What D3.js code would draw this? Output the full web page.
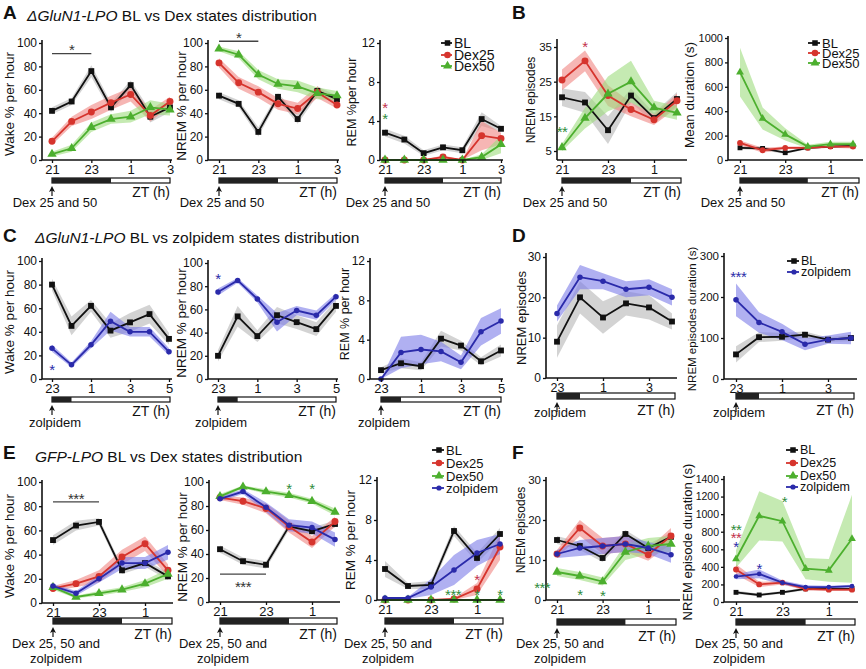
<!DOCTYPE html>
<html><head><meta charset="utf-8">
<script src="https://cdn.jsdelivr.net/npm/d3@7"></script>
<style>body{margin:0;background:#fff}svg{font-family:"Liberation Sans",Arial,sans-serif}</style>
</head><body><svg id="c" width="866" height="669"></svg>
<script>
// ---------------- DATA ----------------
const hoursA = [21,22,23,24,25,26,27];
const hoursB = [21,22,23,24,25,26];
const hoursC = [23,24,25,26,27,28,29];
const hoursD = [23,24,25,26,27,28];
const hoursE = [21,22,23,24,25,26];
const ticksA = [21,23,25,27];
const ticksB = [21,23,25];
const ticksC = [23,25,27,29];
const ticksD = [23,25,27];
const ticksE = [21,23,25];
const pctTicks = [0,20,40,60,80,100];
const remTicks = [0,4,8,12];

// Panel A: ΔGluN1-LPO BL vs Dex
const A_wake_BL = [42,50,76,45,64,37,45], A_wake_BL_sem = [3,3,5,4,4,5,4];
const A_wake_D25 = [16,33,41,49,56,38,50], A_wake_D25_sem = [3,4,6,6,6,5,4];
const A_wake_D50 = [5,10,28,35,37,45,43], A_wake_D50_sem = [2,3,4,4,5,6,5];
const A_nrem_BL = [55,48,24,54,35,59,52], A_nrem_BL_sem = [3,3,4,3,4,4,3];
const A_nrem_D25 = [83,66,58,48,44,58,47], A_nrem_D25_sem = [4,5,5,5,5,5,3];
const A_nrem_D50 = [95,90,73,65,63,57,55], A_nrem_D50_sem = [2,3,4,4,5,5,4];
const A_rem_BL = [2.8,2.1,0.7,1.3,1.0,4.2,3.2], A_rem_BL_sem = [0.4,0.4,0.3,0.3,0.3,0.7,0.3];
const A_rem_D25 = [0,0,0,0.3,0,2.5,2.2], A_rem_D25_sem = [0,0,0,0.2,0,1.5,0.6];
const A_rem_D50 = [0,0,0,0,0,0.3,1.6], A_rem_D50_sem = [0,0,0,0,0,0.3,0.9];

// Panel B
const B_ep_BL = [20.5,19,11,21,14.5,20], B_ep_BL_sem = [2.5,3,4,2,1.5,2];
const B_ep_D25 = [25.5,31,21,17,14,19.5], B_ep_D25_sem = [3,3,3,2,1.5,2];
const B_ep_D50 = [6,14.5,21.5,25,17.5,16], B_ep_D50_sem = [1,3,5,6,2,2];
const B_dur_BL = [100,95,60,100,110,115], B_dur_BL_sem = [12,15,10,10,10,10];
const B_dur_D25 = [140,80,100,100,110,110], B_dur_D25_sem = [20,20,10,10,10,15];
const B_dur_D50 = [720,340,210,110,130,130], B_dur_D50_sem = [200,90,50,15,20,20];

// Panel C: BL vs zolpidem
const C_wake_BL = [80,45,62,41,48,55,34], C_wake_BL_sem = [5,8,5,6,8,8,5];
const C_wake_ZOL = [26,12,29,49,40,40,23], C_wake_ZOL_sem = [3,2,3,8,4,4,3];
const C_nrem_BL = [20,54,37,55,49,43,63], C_nrem_BL_sem = [5,9,5,7,6,6,5];
const C_nrem_ZOL = [75,85,69,49,59,55,71], C_nrem_ZOL_sem = [3,2,3,8,4,4,3];
const C_rem_BL = [0.9,1.6,1.3,4.1,3.4,1.8,2.9], C_rem_BL_sem = [0.3,0.5,0.4,0.8,0.5,0.4,0.6];
const C_rem_ZOL = [0,2.7,3.0,2.8,1.7,4.8,5.9], C_rem_ZOL_sem = [0,1.6,1.5,1.0,0.7,1.4,1.3];

// Panel D
const D_ep_BL = [9,20,15,18.5,17.5,14], D_ep_BL_sem = [4,4,4,3,3,2];
const D_ep_ZOL = [16,25,24,22,22.5,20], D_ep_ZOL_sem = [2,3,2,2,2,2];
const D_dur_BL = [60,102,103,108,96,100], D_dur_BL_sem = [20,12,10,8,5,8];
const D_dur_ZOL = [193,138,115,85,96,100], D_dur_ZOL_sem = [40,25,20,15,10,15];

// Panel E: GFP-LPO
const E_wake_BL = [52,64,67,27,33,22], E_wake_BL_sem = [4,4,3,3,3,3];
const E_wake_D25 = [12,16,22,38,49,27], E_wake_D25_sem = [2,3,5,6,6,5];
const E_wake_D50 = [13,5,8,11,16,24], E_wake_D50_sem = [2,1,2,2,3,4];
const E_wake_ZOL = [14,8,20,33,33,42], E_wake_ZOL_sem = [2,2,3,5,5,6];
const E_nrem_BL = [44,34,31,63,59,65], E_nrem_BL_sem = [3,3,3,3,3,3];
const E_nrem_D25 = [87,84,78,63,50,67], E_nrem_D25_sem = [2,3,4,5,5,4];
const E_nrem_D50 = [88,96,92,89,84,75], E_nrem_D50_sem = [2,1,2,2,2,3];
const E_nrem_ZOL = [86,92,79,64,62,52], E_nrem_ZOL_sem = [2,2,4,5,5,6];
const E_rem_BL = [3.1,1.4,1.5,6.9,4.2,6.6], E_rem_BL_sem = [0.8,0.3,0.4,0.5,0.5,0.6];
const E_rem_D25 = [0,0,0,0.1,1.1,5.3], E_rem_D25_sem = [0,0,0,0.1,0.6,1.3];
const E_rem_D50 = [0,0,0,0,0,0], E_rem_D50_sem = [0,0,0,0,0,0];
const E_rem_ZOL = [0.2,0.2,1.3,3.0,4.7,5.6], E_rem_ZOL_sem = [0.1,0.1,0.8,1.5,1.3,1.0];

// Panel F
const F_ep_BL = [15,13.5,10.5,16.5,13,15.8], F_ep_BL_sem = [1,1,1,1,1,1];
const F_ep_D25 = [11.5,18,13.5,14,11.3,16], F_ep_D25_sem = [1,2,2,2,1.5,2];
const F_ep_D50 = [7,6,4.6,12,13.5,14], F_ep_D50_sem = [1,1,1,2,2,2];
const F_ep_ZOL = [11.5,13,13.5,14,13,11.3], F_ep_ZOL_sem = [1,2,2,2,1.5,2];
const F_dur_BL = [110,80,110,150,150,150], F_dur_BL_sem = [20,15,15,15,15,15];
const F_dur_D25 = [370,200,220,150,140,140], F_dur_D25_sem = [60,30,20,20,15,15];
const F_dur_D50 = [490,980,920,380,360,720], F_dur_D50_sem = [100,280,230,120,130,500];
const F_dur_ZOL = [290,320,220,170,170,180], F_dur_ZOL_sem = [30,50,25,20,15,15];

// ---------------- STYLE ----------------
const STY = {
  BL: {c:"#111111", band:"#b5b5b5", m:d3.symbolSquare, s:34},
  Dex25: {c:"#d6342d", band:"#f08682", m:d3.symbolCircle, s:38},
  Dex50: {c:"#4caf2e", band:"#9fdc7f", m:d3.symbolTriangle, s:38},
  zolpidem: {c:"#2a2aaa", band:"#7c7ce8", m:d3.symbolCircle, s:24}
};
const STAR = {g:"#2e8b3a", r:"#c2304a", b:"#2a2aa8", k:"#333"};
const STAR_FS = 15;

const svg = d3.select("#c");
const S = (name, v, sem) => ({name, v, sem});

function drawPanel(p) {
  const g = svg.append("g");
  const x = d3.scaleLinear().domain([p.hours[0], p.hours[p.hours.length-1]]).range([p.x0, p.x1]);
  const y = d3.scaleLinear().domain(p.yDom).range(p.yRng);
  // bands
  p.series.forEach(s => {
    const st = STY[s.name];
    const area = d3.area()
      .x((d,i)=>x(p.hours[i]))
      .y0((d,i)=>y(Math.max(0, d - s.sem[i])))
      .y1((d,i)=>y(d + s.sem[i]));
    g.append("path").datum(s.v).attr("d", area).attr("fill", st.band).attr("opacity", 0.6);
  });
  // lines + markers
  p.series.forEach(s => {
    const st = STY[s.name];
    const line = d3.line().x((d,i)=>x(p.hours[i])).y(d=>y(d));
    g.append("path").datum(s.v).attr("d", line).attr("fill","none").attr("stroke", st.c).attr("stroke-width", 1.8);
    g.selectAll(null).data(s.v).join("path")
      .attr("transform", (d,i)=>`translate(${x(p.hours[i])},${y(d)})`)
      .attr("d", d3.symbol(st.m, st.s * (p.msc||1)))
      .attr("fill", st.c);
  });
  const tsz = p.tsz || 12;
  // y axis
  const ya = g.append("g").attr("transform", `translate(${p.ax},0)`)
    .call(d3.axisLeft(y).tickValues(p.yTicks).tickFormat(d3.format("d")).tickSize(3).tickPadding(2).tickSizeOuter(0));
  ya.select(".domain").remove();
  ya.attr("font-family", null).attr("font-size", tsz);
  ya.selectAll("line").attr("stroke", "#111").attr("stroke-width", 1.3);
  ya.selectAll("text").attr("fill", "#111");
  g.append("line").attr("x1", p.ax).attr("x2", p.ax).attr("y1", p.axB).attr("y2", p.axT)
    .attr("stroke", "#111").attr("stroke-width", 1.6);
  // x axis
  const xa = g.append("g").attr("transform", `translate(0,${p.axB})`)
    .call(d3.axisBottom(x).tickValues(p.xTicks).tickFormat(h => h % 24).tickSize(3).tickPadding(2).tickSizeOuter(0));
  xa.select(".domain").remove();
  xa.attr("font-family", null).attr("font-size", p.xsz || 13);
  xa.selectAll("line").attr("stroke", "#111").attr("stroke-width", 1.3);
  xa.selectAll("text").attr("fill", "#111");
  g.append("line").attr("x1", p.ax).attr("x2", p.axE).attr("y1", p.axB).attr("y2", p.axB)
    .attr("stroke", "#111").attr("stroke-width", 1.6);
  // light/dark bar
  const bx0 = x(p.hours[0]);
  g.append("rect").attr("x", bx0).attr("y", p.barY).attr("width", p.barE - bx0).attr("height", p.barH)
    .attr("fill", "#fff").attr("stroke", "#111").attr("stroke-width", 1.2);
  g.append("rect").attr("x", bx0).attr("y", p.barY).attr("width", x(24) - bx0).attr("height", p.barH)
    .attr("fill", "#222");
  const bb = p.barY + p.barH;
  // arrow
  g.append("line").attr("x1", bx0).attr("x2", bx0).attr("y1", bb + 6).attr("y2", bb + 13)
    .attr("stroke", "#111").attr("stroke-width", 1.2);
  g.append("path").attr("d", `M${bx0},${bb+3} L${bx0-3},${bb+9} L${bx0},${bb+7.5} L${bx0+3},${bb+9} Z`).attr("fill", "#111");
  // ZT label
  g.append("text").attr("x", p.barE).attr("y", bb + p.ztDy).attr("text-anchor", "end")
    .attr("font-size", 14).attr("fill", "#111").text("ZT (h)");
  // notes
  p.notes.forEach((t, i) => {
    g.append("text").attr("x", bx0 + 3).attr("y", bb + p.noteDy + i * 15).attr("text-anchor", "middle")
      .attr("font-size", 13).attr("fill", "#111").text(t);
  });
  // y label
  g.append("text").attr("transform", `translate(${p.lx},${p.ly}) rotate(-90)`)
    .attr("text-anchor", "middle").attr("dominant-baseline", "central")
    .attr("font-size", p.lsz).attr("fill", "#111").text(p.label);
  // significance bars
  (p.sigLines || []).forEach(l => {
    g.append("line").attr("x1", x(l[0])).attr("x2", x(l[1])).attr("y1", y(l[2])).attr("y2", y(l[2]))
      .attr("stroke", "#444").attr("stroke-width", 1.3);
  });
  (p.stars || []).forEach(s => {
    g.append("text").attr("x", x(s[0])).attr("y", y(s[1]) + 0.58 * STAR_FS).attr("text-anchor", "middle")
      .attr("font-size", STAR_FS).attr("fill", STAR[s[3]]).attr("letter-spacing", "-0.5px").text(s[2]);
  });
  // stacked stars at the same time point, one text block
  (p.stack || []).forEach(st => {
    const t = g.append("text").attr("text-anchor", "middle").attr("font-size", STAR_FS).attr("letter-spacing", "-0.5px");
    st.items.forEach(it => {
      t.append("tspan").attr("x", x(st.h)).attr("y", y(it[0]) + 0.58 * STAR_FS)
        .attr("fill", STAR[it[2]]).text(it[1]);
    });
  });
  // legend
  if (p.legend) {
    const L = p.legend;
    p.series.forEach((s, i) => {
      const st = STY[s.name];
      const yy = L.ys[i];
      g.append("line").attr("x1", L.x).attr("x2", L.x + L.w).attr("y1", yy).attr("y2", yy)
        .attr("stroke", st.c).attr("stroke-width", 1.8);
      g.append("path").attr("transform", `translate(${L.x + L.w/2 + 1},${yy})`)
        .attr("d", d3.symbol(st.m, st.s * 0.9)).attr("fill", st.c);
      g.append("text").attr("x", L.x + L.w + 2).attr("y", yy).attr("dominant-baseline", "central")
        .attr("font-size", L.fs).attr("fill", "#111").text(s.name);
    });
  }
}

function title(letter, lx, ly, tx, ty, ital, rest) {
  svg.append("text").attr("x", lx).attr("y", ly).attr("font-size", 19).attr("font-weight", "bold")
    .attr("fill", "#111").text(letter);
  if (tx !== null) {
    const t = svg.append("text").attr("x", tx).attr("y", ty).attr("font-size", 15.5).attr("fill", "#111");
    t.append("tspan").attr("font-style", "italic").text(ital);
    t.append("tspan").text(rest);
  }
}

title("A", 3, 19, 27, 21, "ΔGluN1-LPO", " BL vs Dex states distribution");
title("B", 512, 19, null);
title("C", 3, 242, 35, 243, "ΔGluN1-LPO", " BL vs zolpidem states distribution");
title("D", 512, 242, null);
title("E", 3, 459, 35, 462, "GFP-LPO", " BL vs Dex states distribution");
title("F", 512, 459, null);

const dexNote = ["Dex 25 and 50"];
const zolNote = ["zolpidem"];
const eNote = ["Dex 25, 50 and", "zolpidem"];

// ---------- Row A ----------
drawPanel({hours:hoursA, xTicks:ticksA, x0:52, x1:170, ax:42, axB:160, axT:40, axE:172,
  yDom:[0,100], yRng:[160,43], yTicks:pctTicks, barY:178, barH:5, barE:170, ztDy:14, noteDy:24, notes:dexNote,
  label:"Wake % per hour", lx:9, ly:104, lsz:13.5,
  series:[S("BL",A_wake_BL,A_wake_BL_sem),S("Dex25",A_wake_D25,A_wake_D25_sem),S("Dex50",A_wake_D50,A_wake_D50_sem)],
  sigLines:[[21,23,91]], stars:[[22,97,"*","k"]]});
drawPanel({hours:hoursA, xTicks:ticksA, x0:219, x1:337, ax:208, axB:160, axT:40, axE:339,
  yDom:[0,100], yRng:[160,43], yTicks:pctTicks, barY:178, barH:5, barE:337, ztDy:14, noteDy:24, notes:dexNote,
  label:"NREM % per hour", lx:181, ly:106, lsz:13.5,
  series:[S("BL",A_nrem_BL,A_nrem_BL_sem),S("Dex25",A_nrem_D25,A_nrem_D25_sem),S("Dex50",A_nrem_D50,A_nrem_D50_sem)],
  sigLines:[[21,23,101.5]], stars:[[22,107.5,"*","k"]]});
drawPanel({hours:hoursA, xTicks:ticksA, x0:385, x1:501, ax:380, axB:160, axT:40, axE:503,
  yDom:[0,12], yRng:[160,43], yTicks:remTicks, barY:178, barH:5, barE:501, ztDy:14, noteDy:24, notes:dexNote,
  label:"REM %per hour", lx:352, ly:102, lsz:12.5,
  series:[S("BL",A_rem_BL,A_rem_BL_sem),S("Dex25",A_rem_D25,A_rem_D25_sem),S("Dex50",A_rem_D50,A_rem_D50_sem)],
  stack:[{h:21, items:[[5.75,"*","r"],[4.6,"*","g"]]}],
  legend:{x:441, w:11, ys:[43,55,66], fs:14}});
// ---------- B ----------
drawPanel({hours:hoursB, xTicks:ticksB, x0:562, x1:677, ax:557, axB:160, axT:39, axE:687,
  yDom:[5,35], yRng:[151,47], yTicks:[5,15,25,35], tsz:11.5, xsz:12.5, barY:178, barH:5, barE:681, ztDy:14, noteDy:24, notes:dexNote,
  label:"NREM episodes", lx:531, ly:100, lsz:12,
  series:[S("BL",B_ep_BL,B_ep_BL_sem),S("Dex25",B_ep_D25,B_ep_D25_sem),S("Dex50",B_ep_D50,B_ep_D50_sem)],
  stars:[[22,36.2,"*","r"],[21,11.6,"**","g"]]});
drawPanel({hours:hoursB, xTicks:ticksB, x0:740, x1:853, ax:728, axB:160, axT:36, axE:863, msc:0.7,
  yDom:[0,1000], yRng:[160,38], yTicks:[0,200,400,600,800,1000], tsz:11, xsz:12.5, barY:178, barH:5, barE:859, ztDy:14, noteDy:24, notes:dexNote,
  label:"Mean duration (s)", lx:689, ly:95, lsz:13.5,
  series:[S("BL",B_dur_BL,B_dur_BL_sem),S("Dex25",B_dur_D25,B_dur_D25_sem),S("Dex50",B_dur_D50,B_dur_D50_sem)],
  legend:{x:808, w:12, ys:[43,53,63], fs:13}});

// ---------- Row C ----------
drawPanel({hours:hoursC, xTicks:ticksC, x0:52, x1:169, ax:42, axB:379, axT:258, axE:172,
  yDom:[0,100], yRng:[379,261], yTicks:pctTicks, barY:397, barH:5, barE:170, ztDy:14, noteDy:25, notes:zolNote,
  label:"Wake % per hour", lx:9, ly:322, lsz:13.5,
  series:[S("BL",C_wake_BL,C_wake_BL_sem),S("zolpidem",C_wake_ZOL,C_wake_ZOL_sem)],
  stars:[[23,11,"*","b"]]});
drawPanel({hours:hoursC, xTicks:ticksC, x0:218, x1:336, ax:208, axB:379, axT:260, axE:338,
  yDom:[0,100], yRng:[379,263], yTicks:pctTicks, barY:397, barH:5, barE:336, ztDy:14, noteDy:25, notes:zolNote,
  label:"NREM % per hour", lx:181, ly:323, lsz:13.5,
  series:[S("BL",C_nrem_BL,C_nrem_BL_sem),S("zolpidem",C_nrem_ZOL,C_nrem_ZOL_sem)],
  stars:[[23,89.7,"*","b"]]});
drawPanel({hours:hoursC, xTicks:ticksC, x0:381, x1:501, ax:370, axB:379, axT:258, axE:503,
  yDom:[0,12], yRng:[379,261], yTicks:remTicks, barY:397, barH:5, barE:501, ztDy:14, noteDy:25, notes:zolNote,
  label:"REM % per hour", lx:345, ly:314, lsz:12.5,
  series:[S("BL",C_rem_BL,C_rem_BL_sem),S("zolpidem",C_rem_ZOL,C_rem_ZOL_sem)]});
// ---------- D ----------
drawPanel({hours:hoursD, xTicks:ticksD, x0:557, x1:672, ax:546, axB:378, axT:253, axE:677,
  yDom:[0,30], yRng:[378,257], yTicks:[0,10,20,30], tsz:12, xsz:12.5, barY:393, barH:6, barE:675, ztDy:16, noteDy:18, notes:zolNote,
  label:"NREM episodes", lx:521, ly:318, lsz:13,
  series:[S("BL",D_ep_BL,D_ep_BL_sem),S("zolpidem",D_ep_ZOL,D_ep_ZOL_sem)]});
drawPanel({hours:hoursD, xTicks:ticksD, x0:736, x1:851, ax:724, axB:379, axT:253, axE:857,
  yDom:[0,300], yRng:[379,256], yTicks:[0,100,200,300], tsz:11.5, xsz:12.5, barY:393, barH:6, barE:854, ztDy:16, noteDy:18, notes:zolNote,
  label:"NREM episodes duration (s)", lx:692, ly:319, lsz:11.5,
  series:[S("BL",D_dur_BL,D_dur_BL_sem),S("zolpidem",D_dur_ZOL,D_dur_ZOL_sem)],
  stars:[[23.1,258,"***","b"]],
  legend:{x:787, w:12, ys:[261,272], fs:12.5}});

// ---------- Row E ----------
drawPanel({hours:hoursE, xTicks:ticksE, x0:53, x1:168, ax:42, axB:603, axT:480, axE:173,
  yDom:[0,100], yRng:[603,482], yTicks:pctTicks, barY:618, barH:6, barE:172, ztDy:15, noteDy:24, notes:eNote,
  label:"Wake % per hour", lx:9, ly:546, lsz:13.5,
  series:[S("BL",E_wake_BL,E_wake_BL_sem),S("Dex25",E_wake_D25,E_wake_D25_sem),S("Dex50",E_wake_D50,E_wake_D50_sem),S("zolpidem",E_wake_ZOL,E_wake_ZOL_sem)],
  sigLines:[[21,23,83.5]], stars:[[22,89,"***","k"]]});
drawPanel({hours:hoursE, xTicks:ticksE, x0:220, x1:335, ax:209, axB:602, axT:480, axE:340,
  yDom:[0,100], yRng:[602,482], yTicks:pctTicks, barY:618, barH:6, barE:337, ztDy:15, noteDy:24, notes:eNote,
  label:"NREM % per hour", lx:182, ly:547, lsz:13.5,
  series:[S("BL",E_nrem_BL,E_nrem_BL_sem),S("Dex25",E_nrem_D25,E_nrem_D25_sem),S("Dex50",E_nrem_D50,E_nrem_D50_sem),S("zolpidem",E_nrem_ZOL,E_nrem_ZOL_sem)],
  sigLines:[[21,23,23.3]], stars:[[22,15.8,"***","k"],[24,97.5,"*","g"],[25,97.5,"*","g"]]});
drawPanel({hours:hoursE, xTicks:ticksE, x0:385, x1:500, ax:377, axB:600, axT:477, axE:505,
  yDom:[0,12], yRng:[600,480], yTicks:remTicks, barY:618, barH:6, barE:503, ztDy:15, noteDy:24, notes:eNote,
  label:"REM % per hour", lx:350, ly:540, lsz:13.5,
  series:[S("BL",E_rem_BL,E_rem_BL_sem),S("Dex25",E_rem_D25,E_rem_D25_sem),S("Dex50",E_rem_D50,E_rem_D50_sem),S("zolpidem",E_rem_ZOL,E_rem_ZOL_sem)],
  stars:[[23.96,0.9,"***","g"],[25,2.4,"*","r"],[25,0.9,"*","g"],[26,0.9,"*","g"]],
  legend:{x:432, w:12, ys:[450,463,476,488], fs:13}});
// ---------- F ----------
drawPanel({hours:hoursE, xTicks:ticksE, x0:557, x1:671, ax:546, axB:600, axT:477, axE:680,
  yDom:[0,30], yRng:[600,480], yTicks:[0,10,20,30], tsz:11.5, xsz:12.5, barY:619, barH:6, barE:676, ztDy:16, noteDy:23, notes:eNote,
  label:"NREM episodes", lx:521, ly:530, lsz:12,
  series:[S("BL",F_ep_BL,F_ep_BL_sem),S("Dex25",F_ep_D25,F_ep_D25_sem),S("Dex50",F_ep_D50,F_ep_D50_sem),S("zolpidem",F_ep_ZOL,F_ep_ZOL_sem)],
  stars:[[20.35,4,"***","g"],[22,2.3,"*","g"],[23,2,"*","g"]]});
drawPanel({hours:hoursE, xTicks:ticksE, x0:736, x1:852, ax:724, axB:602, axT:476, axE:858, msc:0.7,
  yDom:[0,1400], yRng:[602,479], yTicks:[0,200,400,600,800,1000,1200,1400], tsz:10.5, xsz:12.5, barY:619, barH:6, barE:855, ztDy:16, noteDy:23, notes:eNote,
  label:"NREM episode duration (s)", lx:687, ly:542, lsz:13,
  series:[S("BL",F_dur_BL,F_dur_BL_sem),S("Dex25",F_dur_D25,F_dur_D25_sem),S("Dex50",F_dur_D50,F_dur_D50_sem),S("zolpidem",F_dur_ZOL,F_dur_ZOL_sem)],
  stack:[{h:21, items:[[865,"**","g"],[774,"**","r"],[671,"*","b"]]}],
  stars:[[22,421,"*","b"],[23.09,1183,"*","g"]],
  legend:{x:786, w:12, ys:[450,463,476,487], fs:12.5}});
</script>
</body></html>
